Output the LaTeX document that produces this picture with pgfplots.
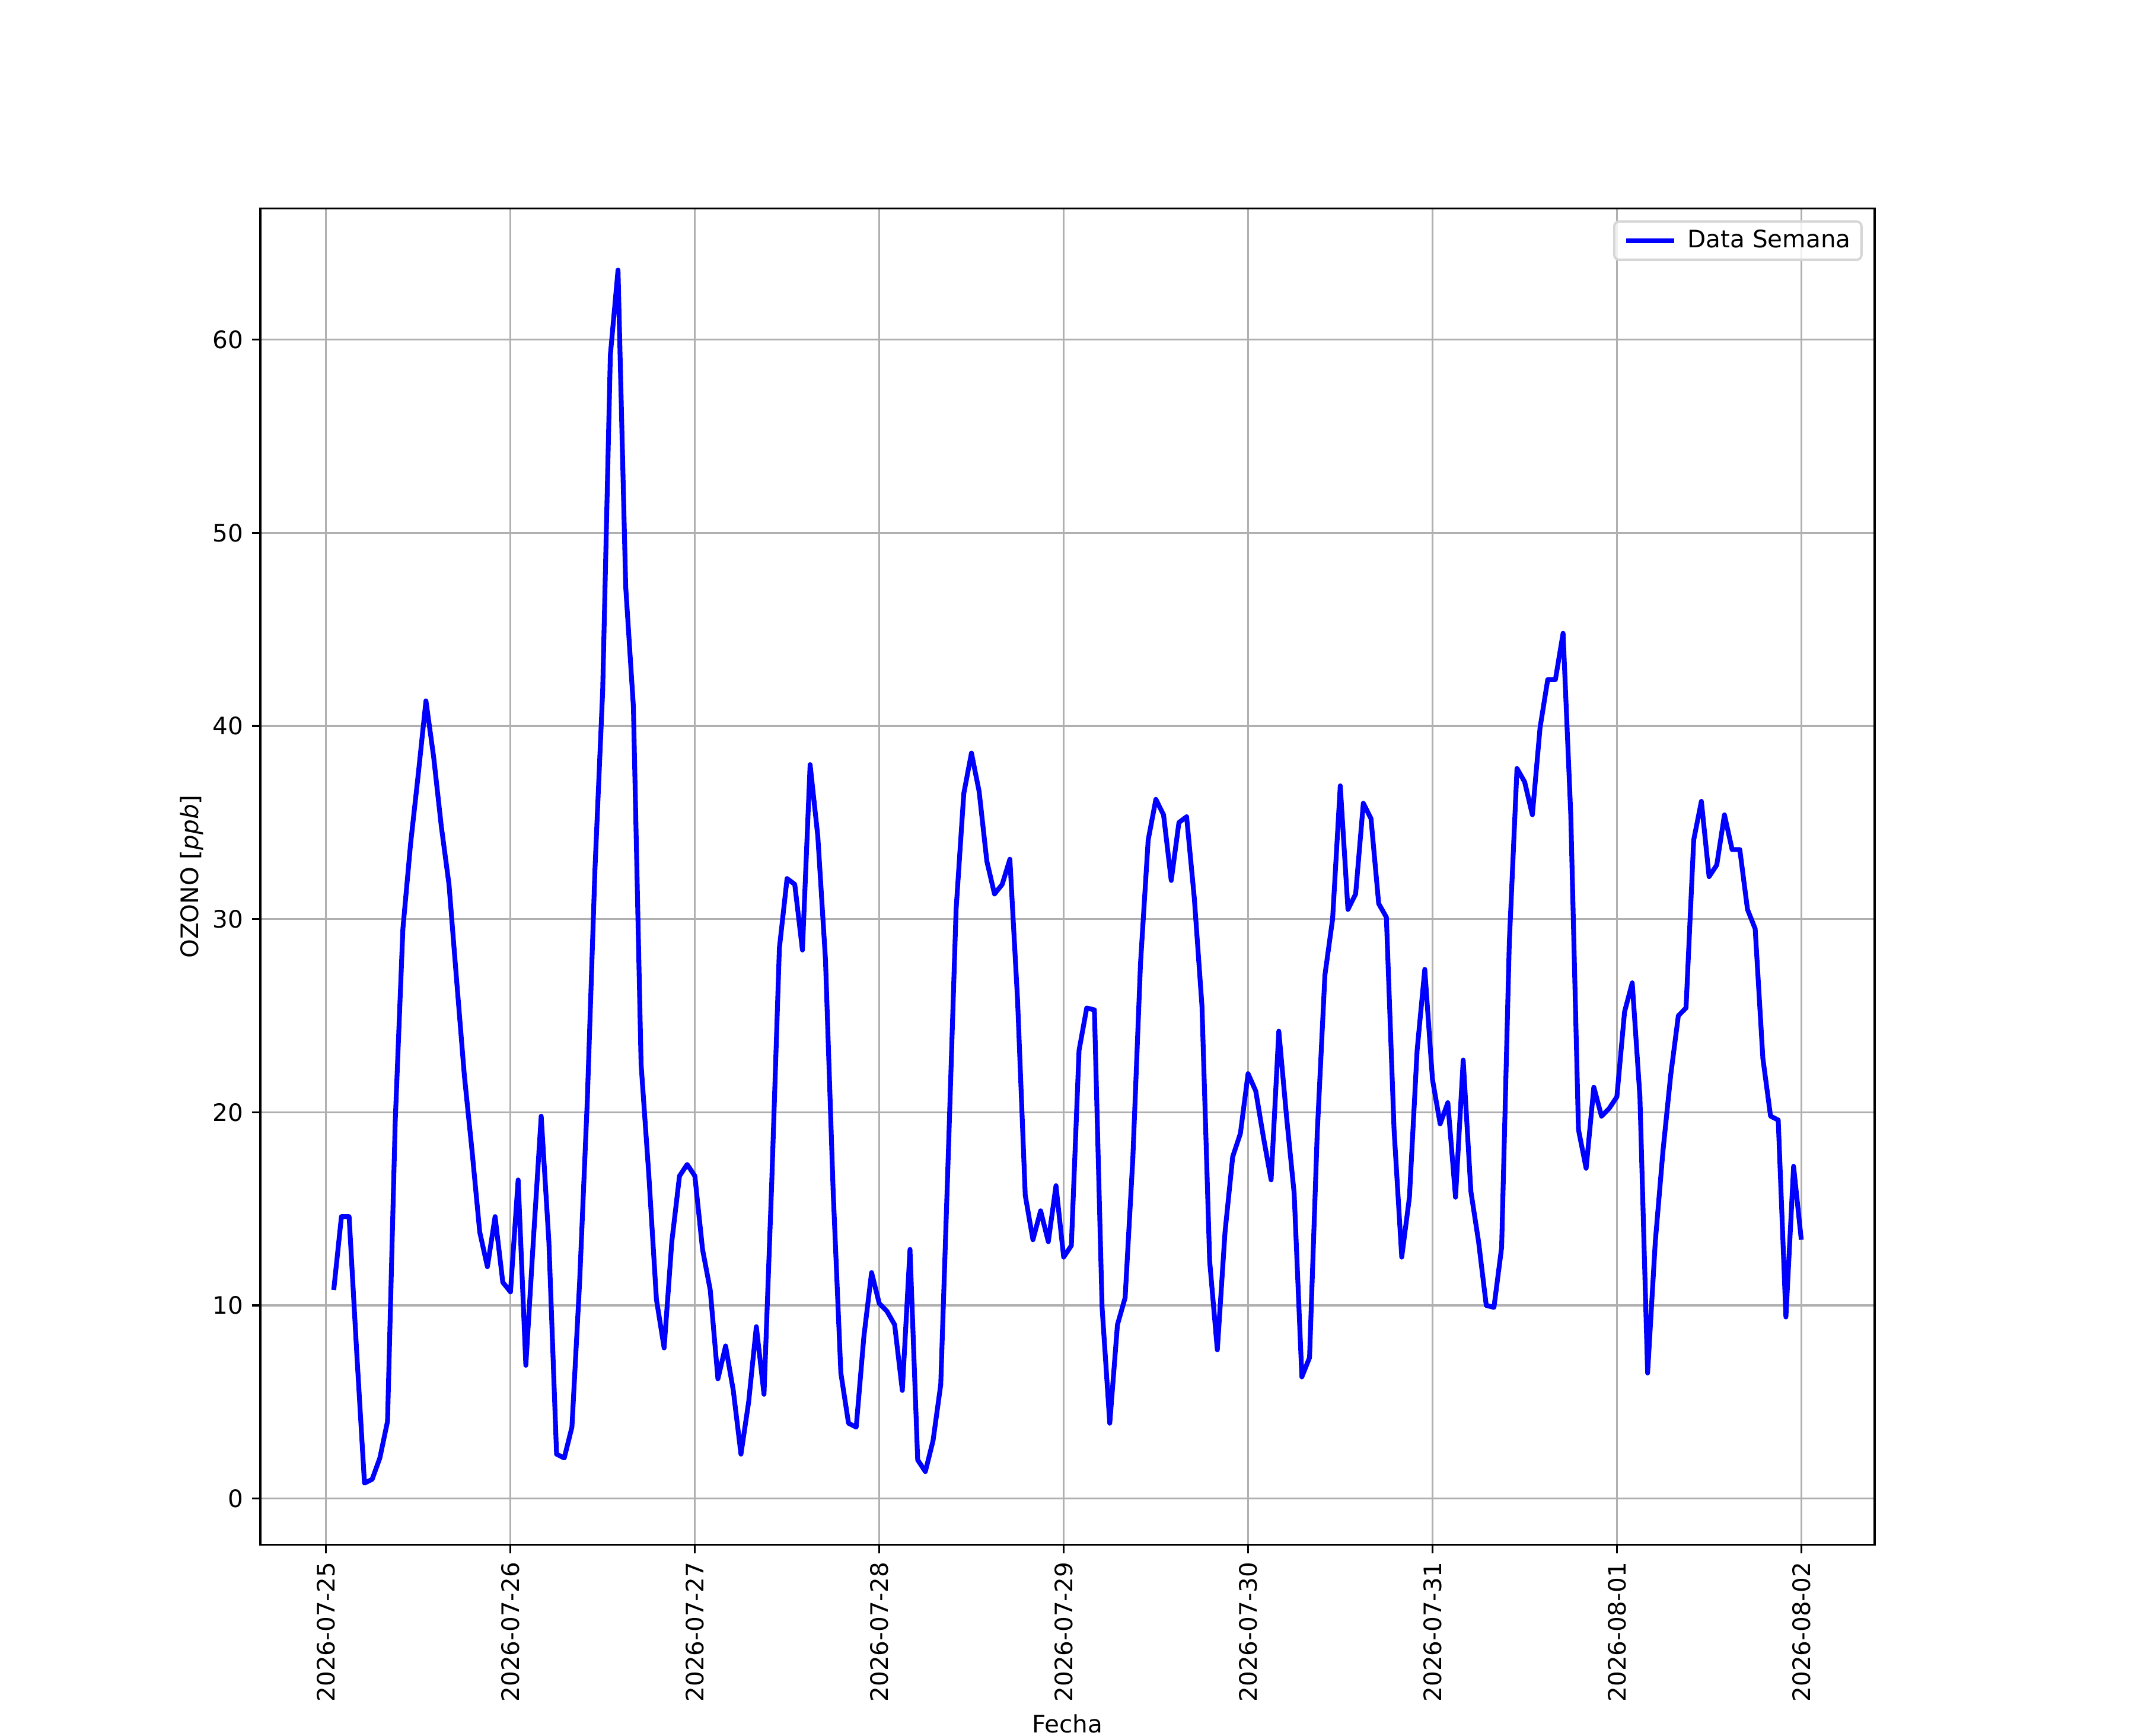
\documentclass[border=0pt]{standalone}
\usepackage{fontspec}
\setmainfont{DejaVu Sans}
\usepackage{pgfplots}
\pgfplotsset{compat=1.18}
\definecolor{gridgray}{HTML}{B0B0B0}
\definecolor{legframe}{HTML}{D6D6D6}
\begin{document}
\begin{tikzpicture}
\begin{axis}[
  at={(0,0)}, anchor=south west,
  scale only axis, width=9.3in, height=7.7in,
  xmin=-8.55, xmax=201.55, ymin=-2.4, ymax=66.8,
  xtick={0,24,...,192},
  xticklabels={2026-07-25,2026-07-26,2026-07-27,2026-07-28,2026-07-29,2026-07-30,2026-07-31,2026-08-01,2026-08-02},
  ytick={0,10,...,60},
  tick pos=left, tick align=outside, major tick length=3.5pt,
  every tick/.style={black, line width=0.8pt},
  axis line style={line width=0.8pt},
  grid=major, major grid style={gridgray, line width=0.8pt},
  x tick label style={rotate=90, anchor=east, inner sep=0pt, xshift=-3.5pt, font=\fontsize{10}{12}\selectfont},
  y tick label style={anchor=east, inner sep=0pt, xshift=-3.5pt, font=\fontsize{10}{12}\selectfont},
  /pgf/number format/assume math mode=true,
  xlabel={Fecha}, ylabel={OZONO [\textit{ppb}]},
  xlabel style={font=\fontsize{10}{12}\selectfont, inner sep=5pt},
  ylabel style={font=\fontsize{10}{12}\selectfont, inner sep=3.5pt},
  legend style={at={(rel axis cs:1,1)}, anchor=north east, xshift=-5pt, yshift=-5pt,
    draw=legframe, line width=1pt, rounded corners=2pt, fill=white, fill opacity=0.8, text opacity=1,
    inner xsep=4pt, inner ysep=3pt, font=\fontsize{10}{12}\selectfont,
    nodes={inner sep=0.5pt}, column sep=4pt},
  legend cell align=left,
  legend image code/.code={\draw[#1] (0pt,0pt) -- (20pt,0pt);},
]
\addplot[blue, line width=2pt, line join=round] table[x=h, y=v] {
h v
1 10.8
2 14.6
3 14.6
4 7.5
5 0.8
6 1.0
7 2.1
8 4.0
9 19.5
10 29.5
11 33.9
12 37.5
13 41.3
14 38.4
15 34.8
16 31.8
17 26.8
18 21.9
19 18.0
20 13.8
21 12.0
22 14.6
23 11.2
24 10.7
25 16.5
26 6.9
27 13.5
28 19.8
29 13.3
30 2.3
31 2.1
32 3.7
33 11.2
34 20.6
35 32.6
36 41.8
37 59.2
38 63.6
39 47.2
40 41.0
41 22.5
42 16.8
43 10.3
44 7.8
45 13.3
46 16.7
47 17.3
48 16.7
49 12.9
50 10.8
51 6.2
52 7.9
53 5.6
54 2.3
55 5.0
56 8.9
57 5.4
58 16.3
59 28.5
60 32.1
61 31.8
62 28.4
63 38.0
64 34.3
65 27.9
66 15.9
67 6.5
68 3.9
69 3.7
70 8.4
71 11.7
72 10.1
73 9.7
74 9.0
75 5.6
76 12.9
77 2.0
78 1.4
79 3.0
80 5.9
81 18.0
82 30.5
83 36.5
84 38.6
85 36.6
86 33.0
87 31.3
88 31.8
89 33.1
90 25.8
91 15.7
92 13.4
93 14.9
94 13.3
95 16.2
96 12.5
97 13.1
98 23.2
99 25.4
100 25.3
101 9.9
102 3.9
103 9.0
104 10.4
105 17.6
106 27.7
107 34.1
108 36.2
109 35.4
110 32.0
111 35.0
112 35.3
113 31.1
114 25.5
115 12.3
116 7.7
117 13.8
118 17.7
119 18.9
120 22.0
121 21.1
122 18.7
123 16.5
124 24.2
125 19.8
126 15.8
127 6.3
128 7.3
129 18.9
130 27.1
131 30.0
132 36.9
133 30.5
134 31.3
135 36.0
136 35.2
137 30.8
138 30.1
139 19.1
140 12.5
141 15.6
142 23.2
143 27.4
144 21.7
145 19.4
146 20.5
147 15.6
148 22.7
149 15.9
150 13.3
151 10.0
152 9.9
153 13.0
154 28.8
155 37.8
156 37.1
157 35.4
158 39.9
159 42.4
160 42.4
161 44.8
162 35.4
163 19.1
164 17.1
165 21.3
166 19.8
167 20.2
168 20.8
169 25.2
170 26.7
171 20.8
172 6.5
173 13.3
174 18.0
175 21.9
176 25.0
177 25.4
178 34.1
179 36.1
180 32.2
181 32.8
182 35.4
183 33.6
184 33.6
185 30.5
186 29.5
187 22.8
188 19.8
189 19.6
190 9.4
191 17.2
192 13.4
};
\addlegendentry{Data Semana}
\node[anchor=south, align=center, inner sep=0pt, yshift=6pt, font=\fontsize{12}{14.4}\selectfont] at (rel axis cs:0.5,1) {OZONO Estación MED-PBLQ\\Desde 2026-07-25 01:00 Hasta 2026-08-02 00:00};
\end{axis}
\pgfresetboundingbox
\path[use as bounding box] (-1.5in,-1.1in) rectangle (10.8in,8.9in);
\end{tikzpicture}
\end{document}
